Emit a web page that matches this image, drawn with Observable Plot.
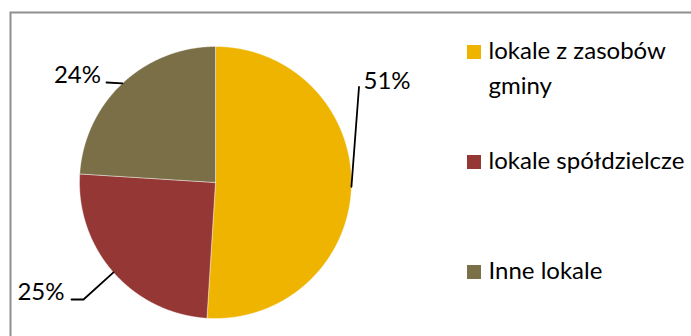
<!DOCTYPE html>
<html>
<head>
<meta charset="utf-8">
<script src="https://cdn.jsdelivr.net/npm/d3@7"></script>
<script src="https://cdn.jsdelivr.net/npm/@observablehq/plot@0.6"></script>
<style>
  html, body { margin: 0; padding: 0; background: #fff; }
  #wrap { position: relative; width: 691px; height: 336px; overflow: hidden; background: #fff; }
</style>
</head>
<body>
<div id="wrap"></div>
<script>
// ---- data ----
const categories = ["lokale z zasobów gminy", "lokale spółdzielcze", "Inne lokale"];
const legendLabels = ["lokale z zasobów\ngminy", "lokale spółdzielcze", "Inne lokale"];
const shares = [51, 25, 24];
const percentLabels = ["51%", "25%", "24%"];
const colors = ["#efb400", "#953735", "#7a6f46"];

// ---- layout (pixels) ----
const W = 691, H = 336;
const CX = 215, CY = 182, R = 136;
const toX = px => (px - CX) / R;
const toY = py => (CY - py) / R;
const FONT = "Lato, 'Open Sans', sans-serif";
const FS = 24;
const LH = 1.42;

// leader-line layout after the slice edge point, and label anchor
const labelLayout = [
  {path: [[358.5, 86.5]], text: [363, 88], anchor: "start"},
  {path: [[83, 299], [71, 299]], text: [64, 299], anchor: "end"},
  {path: [[106, 82]], text: [100.5, 82.5], anchor: "end"}
];
const legendLayout = {swatchX: 473.5, textX: 488, firstY: 51.5, step: 110, baselineOffset: 7.5};

// ---- geometry from values ----
const arcs = d3.pie().sort(null).value(d => d)(shares);
const slicePts = [];
arcs.forEach((a, i) => {
  slicePts.push({cat: categories[i], x: 0, y: 0});
  const n = Math.max(2, Math.ceil((a.endAngle - a.startAngle) / 0.005));
  for (let k = 0; k <= n; k++) {
    const t = a.startAngle + (a.endAngle - a.startAngle) * k / n;
    slicePts.push({cat: categories[i], x: Math.sin(t), y: Math.cos(t)});
  }
  slicePts.push({cat: categories[i], x: 0, y: 0});
});

const leaderPts = [];
const labels = [];
arcs.forEach((a, i) => {
  const m = (a.startAngle + a.endAngle) / 2;
  leaderPts.push({id: i, x: Math.sin(m), y: Math.cos(m)});
  labelLayout[i].path.forEach(([px, py]) => leaderPts.push({id: i, x: toX(px), y: toY(py)}));
  labels.push({label: percentLabels[i], x: toX(labelLayout[i].text[0]), y: toY(labelLayout[i].text[1]), anchor: labelLayout[i].anchor});
});

const legend = categories.map((c, i) => ({
  cat: c,
  label: legendLabels[i],
  sx: toX(legendLayout.swatchX),
  tx: toX(legendLayout.textX),
  y: toY(legendLayout.firstY + i * legendLayout.step)
}));

const frame = [{x1: toX(10.5), x2: toX(900), y1: toY(12.5), y2: toY(600)}];

// Plot places the first line of "top"-anchored text at 0.71 * lineHeight em
const legendDy = legendLayout.baselineOffset - 0.71 * LH * FS;

const chart = Plot.plot({
  width: W,
  height: H,
  margin: 0,
  style: {fontFamily: FONT, background: "transparent", overflow: "hidden"},
  x: {domain: [-1, 1], range: [CX - R, CX + R], axis: null},
  y: {domain: [-1, 1], range: [CY + R, CY - R], axis: null},
  color: {domain: categories, range: colors},
  marks: [
    Plot.rect(frame, {x1: "x1", x2: "x2", y1: "y1", y2: "y2", fill: "none", stroke: "#8f8f8f", strokeWidth: 2}),
    Plot.line(slicePts, {x: "x", y: "y", z: "cat", fill: "cat", stroke: "#ffffff", strokeWidth: 0.6, strokeOpacity: 0.7, curve: "linear"}),
    Plot.line(leaderPts, {x: "x", y: "y", z: "id", stroke: "#000", strokeWidth: 1.8, curve: "linear"}),
    Plot.text(labels.filter(d => d.anchor === "start"), {x: "x", y: "y", text: "label", textAnchor: "start", lineAnchor: "bottom", fontSize: FS, fill: "#000"}),
    Plot.text(labels.filter(d => d.anchor === "end"), {x: "x", y: "y", text: "label", textAnchor: "end", lineAnchor: "bottom", fontSize: FS, fill: "#000"}),
    Plot.dot(legend, {x: "sx", y: "y", fill: "cat", symbol: "square", r: 7.9, stroke: null}),
    Plot.text(legend, {x: "tx", y: "y", text: "label", textAnchor: "start", lineAnchor: "top", dy: legendDy, lineHeight: LH, fontSize: FS, fill: "#000"})
  ]
});
document.getElementById("wrap").appendChild(chart);
</script>
</body>
</html>
